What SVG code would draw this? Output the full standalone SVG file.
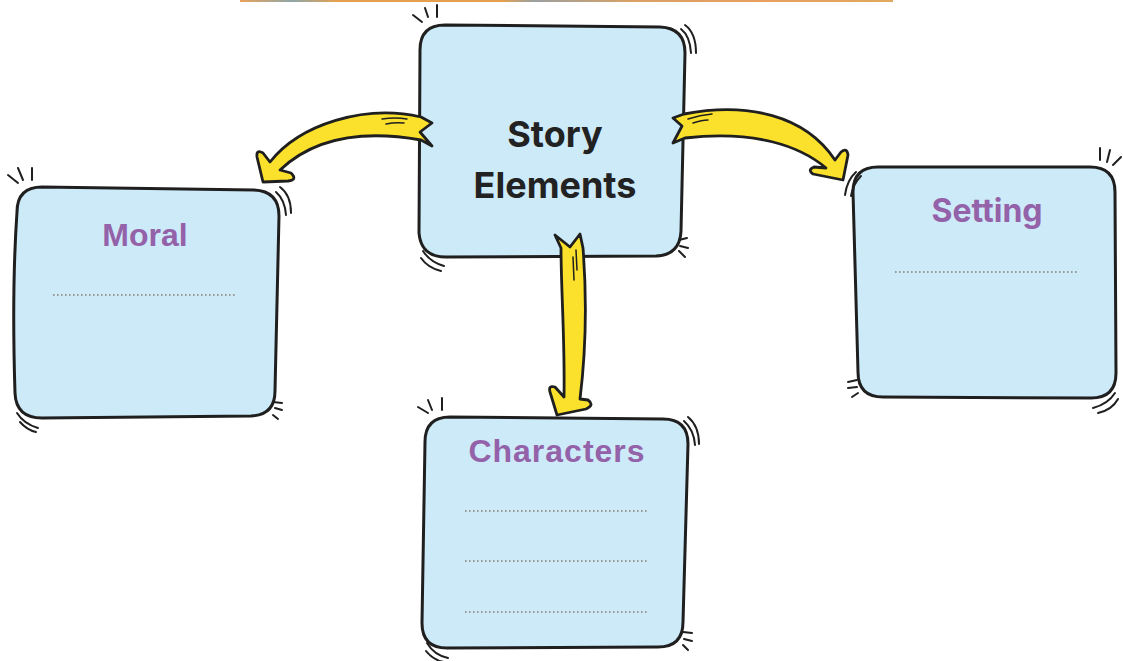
<svg xmlns="http://www.w3.org/2000/svg" width="1123" height="661" viewBox="0 0 1123 661">
<defs>
<linearGradient id="bar" x1="0" y1="0" x2="1" y2="0">
<stop offset="0" stop-color="#e8a15a"/>
<stop offset="0.08" stop-color="#8fa7a8"/>
<stop offset="0.15" stop-color="#e6a04e"/>
<stop offset="0.4" stop-color="#e6a04e"/>
<stop offset="0.45" stop-color="#9aa0a0"/>
<stop offset="0.6" stop-color="#d9a066"/>
<stop offset="0.8" stop-color="#e8a060"/>
<stop offset="1" stop-color="#e0a85e"/>
</linearGradient>
</defs>
<style>
.box{fill:#cdeaf9;stroke:#1f1f1f;stroke-width:3;stroke-linejoin:round}
.tick{fill:none;stroke:#1f1f1f;stroke-width:2;stroke-linecap:round}
.arrow{fill:#fbe12b;stroke:#1f1f1f;stroke-width:2.8;stroke-linejoin:round}
.hl{fill:none;stroke:#1f1f1f;stroke-width:1.5;stroke-linecap:round}
.dots{fill:none;stroke:#9a9a9a;stroke-width:1.8;stroke-dasharray:1.6 2.4}
.main{font-family:Inter,"Open Sans","DejaVu Sans",sans-serif;font-weight:700;font-size:36px;fill:#222;text-anchor:middle}
.title{font-family:"Liberation Sans",Arial,sans-serif;font-weight:700;font-size:32px;fill:#9462a8;text-anchor:middle}
.title2{font-family:Inter,"Open Sans","DejaVu Sans",sans-serif;font-weight:700;font-size:32px;fill:#9462a8;text-anchor:middle}
</style>
<rect x="240" y="0" width="653" height="2" fill="url(#bar)"/>

<g id="story-elements">
<path class="box" d="M445,25 L660,27 Q685,28 685,53 L681,231 Q680,255 656,256 L446,257 Q421,257 419,233 L420,50 Q420,25 445,25 Z"/>
<path class="tick" d="M413,15 L422,22 M425,8 L428,17 M437,5 L437,17"/>
<path class="tick" d="M681,29 Q690,36 691,53 M685,25 Q696,33 696,53"/>
<path class="tick" d="M679,240 L687,238 M680,246 L688,248 M679,251 L685,257"/>
<path class="tick" d="M423,251 Q430,262 444,266 M421,258 Q428,268 441,271"/>
<text class="main" x="555" y="147">Story</text>
<text class="main" x="555" y="198">Elements</text>
</g>

<g id="moral">
<path class="box" d="M42,187 L254,190 Q279,191 279,216 L275,391 Q275,415 251,416 L42,418 Q16,418 15,393 C13,330 13,270 17,212 Q17,187 42,187 Z"/>
<path class="tick" d="M8,175 L18,183 M18,168 L23,180 M32,168 L32,180"/>
<path class="tick" d="M276,192 Q285,200 286,215 M280,187 Q291,195 291,213"/>
<path class="tick" d="M273,402 L282,403 M275,408 L282,410 M273,415 L278,419"/>
<path class="tick" d="M17,413 Q24,424 38,428 M20,422 Q27,430 36,432"/>
<text class="title" x="145" y="246">Moral</text>
<path class="dots" d="M53,295 L237,295"/>
</g>

<g id="setting">
<path class="box" d="M878,167 L1090,167 Q1115,167 1115,192 L1116,373 Q1116,398 1091,398 L883,397 Q858,397 858,372 L853,192 Q853,167 878,167 Z"/>
<path class="tick" d="M1100,148 L1100,160 M1110,150 L1107,162 M1121,157 L1113,165"/>
<path class="tick" d="M856,172 Q847,180 845,195 M861,176 Q853,184 851,196"/>
<path class="tick" d="M848,382 L857,380 M848,388 L857,387 M852,397 L858,393"/>
<path class="tick" d="M1115,393 Q1108,404 1093,408 M1118,399 Q1112,410 1098,413"/>
<text class="title2" x="987" y="222">Setting</text>
<path class="dots" d="M895,272 L1078,272"/>
</g>

<g id="characters">
<path class="box" d="M450,417 L663,419 Q688,419 688,444 L683,622 Q683,647 658,647 L447,648 Q422,648 422,623 L425,442 Q425,417 450,417 Z"/>
<path class="tick" d="M418,407 L428,413 M428,400 L432,410 M442,398 L442,410"/>
<path class="tick" d="M684,421 Q694,430 695,445 M688,417 Q699,426 699,444"/>
<path class="tick" d="M683,632 L692,633 M684,639 L692,641 M683,645 L688,650"/>
<path class="tick" d="M427,643 Q434,655 448,658 M426,651 Q433,660 444,662"/>
<text class="title" x="557" y="462" letter-spacing="1">Characters</text>
<path class="dots" d="M465,511 L648,511 M465,561 L648,561 M465,612 L648,612"/>
</g>

<g id="connectors">
<path class="arrow" d="M263,182 L257,157 Q256,149 263,153 L270,162 C300,124 365,104 421,117 L432,123 L420,132 L432,146 L421,140 C370,131 318,134 280,170 L291,173 Q298,180 288,181 Z"/>
<path class="hl" d="M382,119 Q395,117 407,119 M386,124 Q395,122 404,123"/>
<path class="arrow" d="M843,180 L813,174 Q807,170 814,167 L826,168 C800,146 755,130 685,138 L673,143 L682,126 L673,118 L684,114 C748,102 805,115 835,160 L841,152 Q847,147 848,155 Z"/>
<path class="hl" d="M688,119 Q700,115 712,114 M693,123 Q702,120 708,120"/>
<path class="arrow" d="M557,415 L550,392 Q548,385 555,387 L564,397 C565,340 561,290 561,248 L555,235 L570,247 L580,234 L583,248 C587,300 586,350 580,399 L588,400 Q595,405 586,409 Z"/>
<path class="hl" d="M576,250 L577,270 M573,257 L574,280"/>
</g>
</svg>
